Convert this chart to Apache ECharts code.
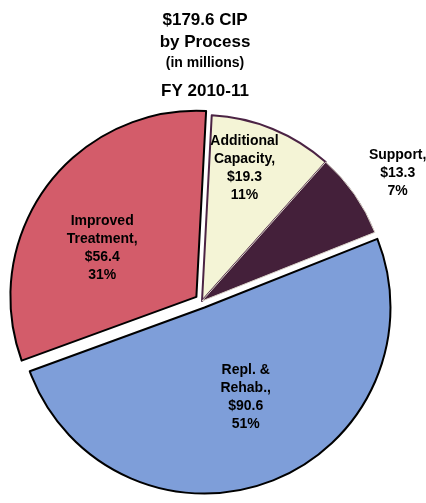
<!DOCTYPE html>
<html>
<head>
<meta charset="utf-8">
<script src="https://cdn.jsdelivr.net/npm/echarts@6/dist/echarts.min.js"></script>
<style>
html,body{margin:0;padding:0;background:#fff;}
#c{width:426px;height:503px;}
</style>
</head>
<body>
<div id="c"></div>
<script>
// Data (in millions)
const categories = ['Additional\nCapacity', 'Support', 'Repl. &\nRehab.', 'Improved\nTreatment'];
const values = [19.3, 13.3, 90.6, 56.4];
const percents = [11, 7, 51, 31];
const titleLines = ['$179.6 CIP', 'by Process', '(in millions)', 'FY 2010-11'];

// Styles
const colors = ['#f4f4d6', '#44203a', '#7e9ed9', '#d35c6a'];
const borders = [
  {borderColor: '#4b2344', borderWidth: 2},
  {borderColor: '#d9d2c8', borderWidth: 1},
  {borderColor: '#000000', borderWidth: 2},
  {borderColor: '#000000', borderWidth: 2}
];
const exploded = [false, false, true, true];
const labelShift = [[6, -44], [117, -73], [7, 0], [-17, 8]];
const FONT = '"Liberation Sans", Arial, sans-serif';

const chart = echarts.init(document.getElementById('c'), null, {renderer: 'canvas'});

const titles = [
  {text: titleLines[0], top: 12, size: 17},
  {text: titleLines[1], top: 34, size: 17},
  {text: titleLines[2], top: 56, size: 14},
  {text: titleLines[3], top: 83, size: 17}
].map(t => ({
  text: t.text,
  left: 205,
  top: t.top,
  textAlign: 'center',
  padding: 0,
  textStyle: {fontFamily: FONT, fontWeight: 'bold', fontSize: t.size, color: '#000'}
}));

chart.setOption({
  animation: false,
  backgroundColor: '#fff',
  title: titles,
  series: [{
    type: 'pie',
    center: [202, 301],
    radius: [0, 186],
    startAngle: 87,
    clockwise: true,
    selectedMode: 'multiple',
    selectedOffset: 7,
    avoidLabelOverlap: false,
    emphasis: {disabled: true},
    label: {
      show: true,
      position: 'inside',
      fontFamily: FONT,
      fontWeight: 'bold',
      fontSize: 14,
      lineHeight: 18,
      color: '#000',
      align: 'center',
      formatter: p => `${p.name},\n$${p.value}\n${percents[p.dataIndex]}%`
    },
    labelLine: {show: false},
    labelLayout: p => ({dx: labelShift[p.dataIndex][0], dy: labelShift[p.dataIndex][1]}),
    data: categories.map((name, i) => ({
      name,
      value: values[i],
      selected: exploded[i],
      itemStyle: Object.assign({color: colors[i]}, borders[i])
    }))
  }]
});
</script>
</body>
</html>
